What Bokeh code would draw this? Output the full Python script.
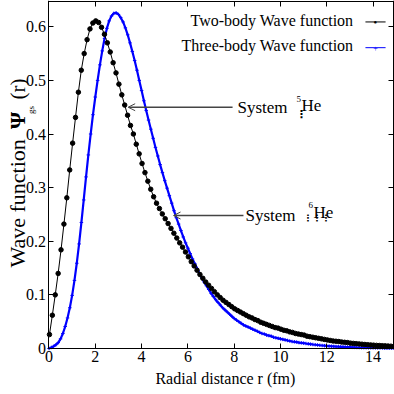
import math
from bokeh.plotting import figure
from bokeh.models import Label, Arrow, OpenHead, LinearAxis, FixedTicker
from bokeh.embed import file_html
from bokeh.resources import INLINE

# ---- data ----
two_body_r0 = 0.02
two_body_dr = 0.125
two_body_psi = [
    0.026, 0.062, 0.100, 0.140, 0.184, 0.232, 0.281, 0.333, 0.383, 0.431,
    0.478, 0.519, 0.550, 0.576, 0.596, 0.607, 0.611, 0.608, 0.599, 0.586,
    0.570, 0.553, 0.533, 0.514, 0.493, 0.473, 0.454, 0.435, 0.416, 0.400,
    0.381, 0.363, 0.345, 0.328, 0.312, 0.297, 0.283, 0.271, 0.261, 0.251,
    0.242, 0.233, 0.224, 0.215, 0.206, 0.197, 0.189, 0.180, 0.171, 0.162,
    0.154, 0.146, 0.138, 0.131, 0.124, 0.118, 0.112, 0.106, 0.100, 0.095,
    0.090, 0.086, 0.082, 0.078, 0.074, 0.071, 0.068, 0.065, 0.062, 0.059,
    0.057, 0.054, 0.052, 0.049, 0.047, 0.045, 0.043, 0.041, 0.039, 0.038,
    0.036, 0.034, 0.033, 0.031, 0.030, 0.028, 0.027, 0.026, 0.025, 0.023,
    0.022, 0.021, 0.020, 0.019, 0.018, 0.017, 0.016, 0.015, 0.014, 0.0135,
    0.013, 0.012, 0.0115, 0.011, 0.010, 0.0095, 0.009, 0.0085, 0.008, 0.0075,
    0.007, 0.0066, 0.0062, 0.0058, 0.0055, 0.0052, 0.0049, 0.0046, 0.0043, 0.004,
]
three_body_r0 = 0.0
three_body_dr = 0.1
three_body_psi = [
    0.000, 0.002, 0.004, 0.007, 0.011, 0.018, 0.028, 0.041, 0.057, 0.076,
    0.099, 0.127, 0.159, 0.195, 0.235, 0.277, 0.320, 0.361, 0.400, 0.436,
    0.469, 0.500, 0.529, 0.555, 0.578, 0.597, 0.611, 0.620, 0.625, 0.626,
    0.623, 0.617, 0.609, 0.598, 0.585, 0.570, 0.554, 0.537, 0.519, 0.500,
    0.481, 0.462, 0.444, 0.426, 0.409, 0.392, 0.375, 0.359, 0.343, 0.328,
    0.313, 0.299, 0.285, 0.271, 0.257, 0.244, 0.232, 0.220, 0.208, 0.197,
    0.187, 0.177, 0.167, 0.158, 0.149, 0.140, 0.132, 0.124, 0.117, 0.110,
    0.103, 0.097, 0.091, 0.086, 0.081, 0.076, 0.072, 0.068, 0.064, 0.060,
    0.056, 0.053, 0.050, 0.047, 0.044, 0.042, 0.040, 0.038, 0.036, 0.034,
    0.032, 0.030, 0.028, 0.027, 0.025, 0.024, 0.023, 0.021, 0.020, 0.019,
    0.018, 0.017, 0.016, 0.015, 0.014, 0.013, 0.0125, 0.012, 0.011, 0.0105,
    0.010, 0.0093, 0.0087, 0.0081, 0.0075, 0.0070, 0.0065, 0.0060, 0.0056, 0.0052,
    0.0048, 0.0045, 0.0042, 0.0039, 0.0036, 0.0034, 0.0032, 0.0030, 0.0028, 0.0026,
    0.0024, 0.0022, 0.0021, 0.0019, 0.0018, 0.0017, 0.0016, 0.0015, 0.0014, 0.0013,
    0.0012, 0.0011, 0.0010, 0.0010, 0.0009, 0.0008, 0.0008, 0.0007, 0.0007, 0.0006,
    0.0006,
]
x_ticks = [0, 2, 4, 6, 8, 10, 12, 14]
y_ticks = [0, 0.1, 0.2, 0.3, 0.4, 0.5, 0.6]
series_names = ["Two-body Wave function", "Three-body Wave function"]
x_title = "Radial distance r (fm)"

two_body_r = [round(two_body_r0 + two_body_dr * i, 4) for i in range(len(two_body_psi))]
three_body_r = [round(three_body_r0 + three_body_dr * i, 4) for i in range(len(three_body_psi))]

FONT = "Liberation Serif"
X_MAX = 14.925
Y_MAX = 0.649

# the frame covers the whole canvas; axes are placed at fixed data locations
p = figure(width=394, height=394, x_range=(-2.095, X_MAX), y_range=(-0.0858, Y_MAX),
           output_backend="svg", toolbar_location=None,
           min_border_left=0, min_border_right=0, min_border_top=0, min_border_bottom=0)
p.grid.visible = False
p.outline_line_color = None
p.background_fill_color = "white"
p.border_fill_color = "white"

# curves
p.line(three_body_r, three_body_psi, line_color="#0000ff", line_width=2.2)
p.scatter(three_body_r, three_body_psi, marker="cross", size=3.5, line_color="#0000ff", line_width=1)
p.line(two_body_r, two_body_psi, line_color="black", line_width=1)
p.scatter(two_body_r, two_body_psi, marker="circle", size=4.5, fill_color="black", line_color="black")

# axes
for ax in (p.xaxis[0], p.yaxis[0]):
    ax.fixed_location = 0
    ax.major_tick_in = 5
    ax.major_tick_out = 0
    ax.minor_tick_in = 0
    ax.minor_tick_out = 0
    ax.axis_line_color = "black"
    ax.major_tick_line_color = "black"
    ax.major_label_text_font = FONT
    ax.major_label_text_font_size = "16px"
    ax.major_label_text_color = "black"
    ax.major_label_standoff = 3
p.xaxis.ticker = FixedTicker(ticks=x_ticks)
p.yaxis.ticker = FixedTicker(ticks=y_ticks)
p.xaxis.bounds = (0, X_MAX)
p.yaxis.bounds = (0, Y_MAX)
p.yaxis.major_label_overrides = {0: "0"}

top_axis = LinearAxis(ticker=FixedTicker(ticks=x_ticks), fixed_location=Y_MAX - 0.001,
                      bounds=(0, X_MAX), major_label_text_font_size="1px",
                      major_label_overrides={t: "" for t in x_ticks},
                      major_tick_in=5, major_tick_out=0, minor_tick_in=0, minor_tick_out=0,
                      major_label_standoff=0, axis_line_color="black")
right_axis = LinearAxis(ticker=FixedTicker(ticks=y_ticks), fixed_location=X_MAX - 0.03,
                        bounds=(0, Y_MAX), major_label_text_font_size="1px",
                        major_label_overrides={t: "" for t in y_ticks},
                        major_tick_in=5, major_tick_out=0, minor_tick_in=0, minor_tick_out=0,
                        major_label_standoff=0, axis_line_color="black")
p.add_layout(top_axis, "above")
p.add_layout(right_axis, "right")

def lab(x, y, text, size, **kw):
    params = dict(x=x, y=y, text=text, text_font=FONT, text_font_size=size,
                  text_color="black", text_baseline="middle", text_align="left")
    params.update(kw)
    p.add_layout(Label(**params))

# x-axis title
lab(7.62, -0.056, x_title, "16px", text_align="center")

# y-axis title composed of pieces (rotated)
rot = math.pi / 2
lab(-1.34, 0.151, "Wave function", "22px", angle=rot)
lab(-1.34, 0.4095, "Ψ", "22px", angle=rot, text_font_style="bold")
lab(-0.76, 0.4375, "gs", "9px", angle=rot)
lab(-1.32, 0.4646, "(r)", "21px", angle=rot)

# legend (text right-aligned, key on the right)
lab(13.15, 0.612, series_names[0], "16px", text_align="right")
lab(13.15, 0.565, series_names[1], "16px", text_align="right")
p.add_layout(Arrow(start=None, end=None, x_start=13.67, y_start=0.609, x_end=14.54, y_end=0.609,
                   line_color="black", line_width=1))
lab(14.1, 0.609, "●", "6px", text_align="center")
p.add_layout(Arrow(start=None, end=None, x_start=13.67, y_start=0.561, x_end=14.54, y_end=0.561,
                   line_color="#0000ff", line_width=1))
lab(14.1, 0.561, "+", "8px", text_align="center", text_color="#0000ff")

# system annotations
p.add_layout(Arrow(end=OpenHead(size=7, line_color="#444444", line_width=1),
                   x_start=7.93, y_start=0.45, x_end=3.42, y_end=0.45,
                   line_color="#444444", line_width=1.5))
lab(8.14, 0.45, "System", "17px")
lab(10.66, 0.436, "⋮", "11px", text_font="DejaVu Sans", text_font_style="bold")
lab(10.69, 0.466, "5", "9px")
lab(10.91, 0.453, "He", "17px")

p.add_layout(Arrow(end=OpenHead(size=7, line_color="#444444", line_width=1),
                   x_start=8.4, y_start=0.248, x_end=5.38, y_end=0.248,
                   line_color="#444444", line_width=1.5))
lab(8.49, 0.248, "System", "17px")
lab(10.98, 0.2435, "⋮⋮⋮", "9px", text_font="DejaVu Sans", text_font_style="bold")
lab(11.21, 0.267, "6", "9px")
lab(11.43, 0.254, "He", "17px")

open("out.html", "w").write(file_html(p, INLINE))
